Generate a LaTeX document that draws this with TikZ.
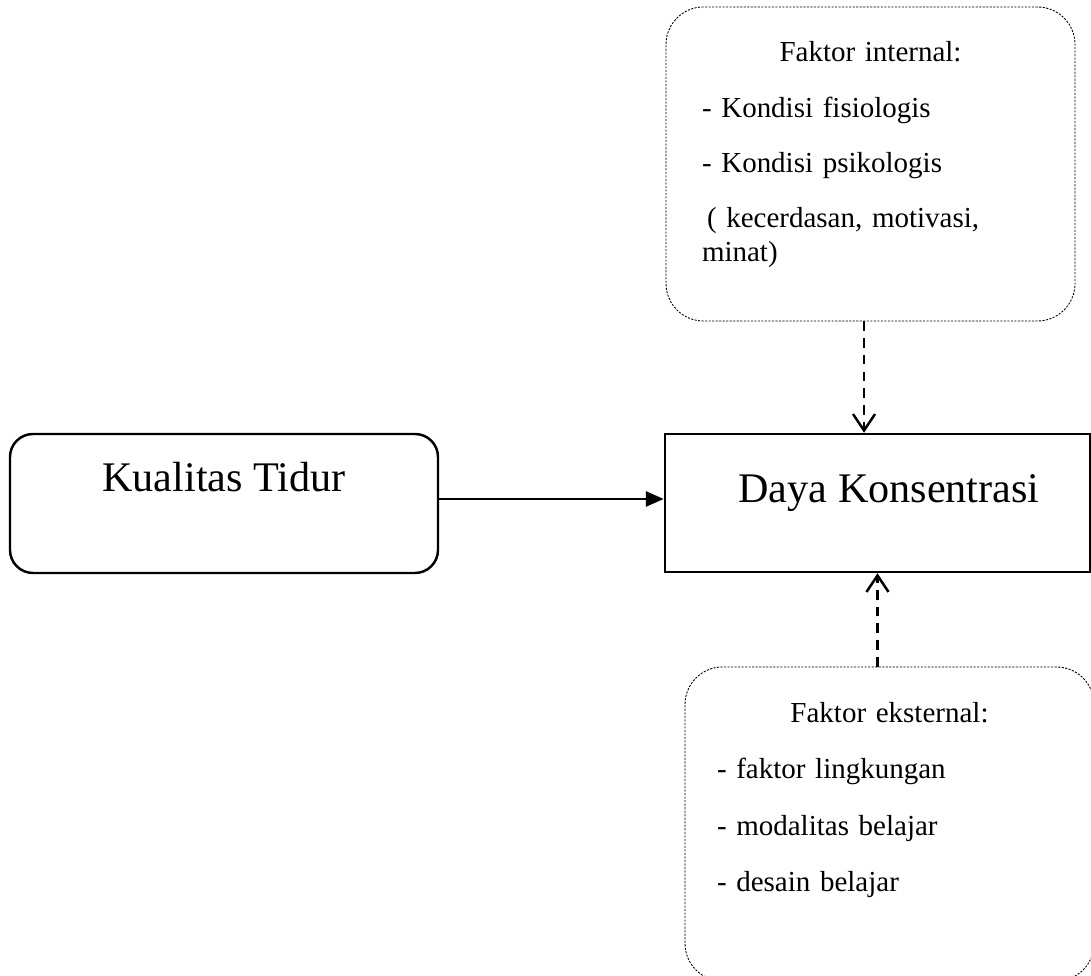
\documentclass[tikz,border=0pt]{standalone}
\usepackage{fontspec}
\setmainfont{Liberation Serif}
\usetikzlibrary{arrows.meta}

\begin{document}
\begin{tikzpicture}[
	mainbox/.style={draw, line width=1.4pt, inner sep=0pt, font=\fontsize{24}{29}\selectfont},
	faktorbox/.style={draw, line width=0.5pt, dash pattern=on 1.2pt off 0.8pt,
		rounded corners=0.75cm, inner sep=0pt, minimum width=8.18cm, minimum height=6.28cm,
		align=left, font=\fontsize{16.5}{19.5}\selectfont},
	dasharrow/.style={line width=1.4pt, dash pattern=on 5.5pt off 4pt,
		-{Straight Barb[length=0.33cm,width=0.44cm]}},
	]
	\useasboundingbox (0,0) rectangle (21.82,19.52);
	\clip (0,0) rectangle (21.82,19.52);
	% the two main variables
	\node[mainbox, rounded corners=0.46cm, minimum width=8.56cm, minimum height=2.78cm,
		text height=1.16cm, text depth=1.62cm]
		(tidur) at (4.48,9.45) {Kualitas Tidur};
	\node[mainbox, minimum width=8.5cm, minimum height=2.76cm,
		text height=1.38cm, text depth=1.38cm]
		(daya) at (17.55,9.46) {\hspace*{0.46cm}Daya Konsentrasi};
	% the factors
	\node[faktorbox, text width=6.74cm] (internal) at (17.41,16.24) {%
		\setlength{\parskip}{0.42cm}%
		{\centering Faktor internal:\par}
		- Kondisi fisiologis\par
		- Kondisi psikologis\par
		\hspace*{0.1cm}( kecerdasan, motivasi,\newline minat)\par
		\nointerlineskip\vbox to 0.36cm{}};
	\node[faktorbox, text width=6.9cm] (eksternal) at (17.79,3.04) {%
		\setlength{\parskip}{0.44cm}%
		{\centering Faktor eksternal:\par}
		- faktor lingkungan\par
		- modalitas belajar\par
		- desain belajar\par
		\nointerlineskip\vbox to 0.96cm{}};
	% connectors
	\coordinate (tidurout) at ([yshift=0.09cm]tidur.east);
	\coordinate (intfoot) at ([xshift=-0.13cm]internal.south);
	\draw[line width=1.6pt, -{Triangle[length=0.36cm,width=0.3cm]}] (tidurout) -- (tidurout -| daya.west);
	\draw[dasharrow] (intfoot) -- (intfoot |- daya.north);
	\draw[dasharrow] (daya.south |- eksternal.north) -- (daya.south);
\end{tikzpicture}
\end{document}
